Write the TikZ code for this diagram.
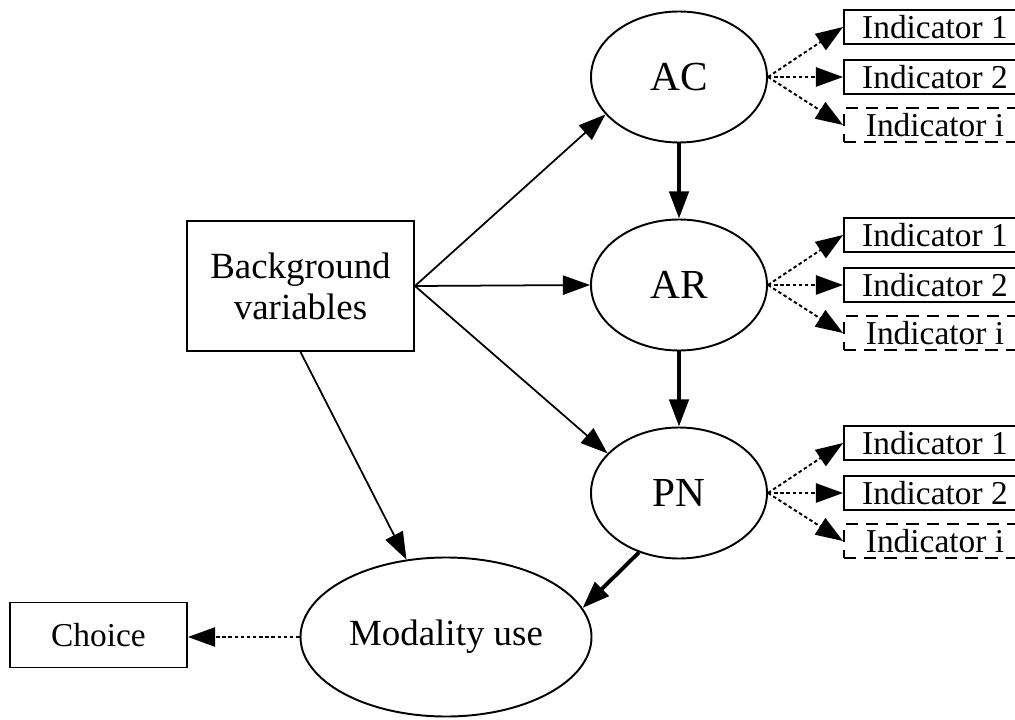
\documentclass[tikz,border=0pt]{standalone}
\usepackage{fontspec}
\setmainfont{Liberation Serif}
\usepackage{tikz}
\usetikzlibrary{arrows.meta,shapes.geometric}

\begin{document}
\begin{tikzpicture}[
  font=\fontsize{21}{23.3}\selectfont,
  lat/.style={draw, ellipse, line width=1.1pt, inner sep=0pt, minimum width=3.52cm, minimum height=2.62cm, font=\fontsize{23.5}{26}\selectfont},
  obs/.style={draw, rectangle, line width=1.1pt, inner sep=0pt, align=center, minimum width=#1},
  obs/.default=3.54cm,
  ind/.style={draw, rectangle, line width=1.1pt, inner sep=0pt, anchor=west, minimum width=3.64cm, minimum height=0.68cm, font=\fontsize{19}{20}\selectfont},
  indq/.style={ind, dash pattern=on 7pt off 4.5pt},
  dot/.style={line width=1.1pt, dash pattern=on 2pt off 1.5pt},
  bold/.style={line width=2.2pt},
  >={Triangle[length=15.5pt, width=11pt]},
]
\useasboundingbox (0,0) rectangle (20.3,-14.38);

\node[obs=4.54cm, minimum height=2.6cm] (Bg) at (6.01,-5.72) {Background\\variables};
\node[lat] (AC) at (13.58,-1.54) {AC};
\node[lat] (AR) at (13.58,-5.7) {AR};
\node[lat] (PN) at (13.58,-9.86) {PN};
\node[lat, minimum width=5.82cm, minimum height=3.18cm, font=\fontsize{21}{23.3}\selectfont] (Mod) at (8.92,-12.74) {Modality use};
\node[obs, minimum height=1.3cm, font=\fontsize{19}{20}\selectfont] (Choice) at (1.97,-12.7) {Choice};

% background variables to the latent variables
\draw[line width=1pt, ->] (Bg.east) -- (AC.207);
\draw[line width=1pt, ->] (Bg.east) -- (AR.west);
\draw[line width=1pt, ->] (Bg.east) -- (PN.151);
\draw[line width=1pt, ->] (Bg.south) -- (Mod);

% chain AC -> AR -> PN -> use
\draw[bold, ->] (AC) -- (AR);
\draw[bold, ->] (AR) -- (PN);
\draw[bold, ->] (PN.236) -- (Mod.12);
\draw[dot, ->] (Mod.west) -- (Mod.west -| Choice.east);

% measurement indicators
\foreach \lv/\y in {AC/-1.54, AR/-5.7, PN/-9.86} {
  \node[ind] (\lv1) at (16.86,\y+1.0) {Indicator 1};
  \node[ind] (\lv2) at (16.86,\y) {Indicator 2};
  \node[indq] (\lv i) at (16.86,\y-0.96) {Indicator i};
  \foreach \k in {1,2,i} \draw[dot, ->] (\lv.east) -- (\lv\k.west);
}
\end{tikzpicture}
\end{document}
